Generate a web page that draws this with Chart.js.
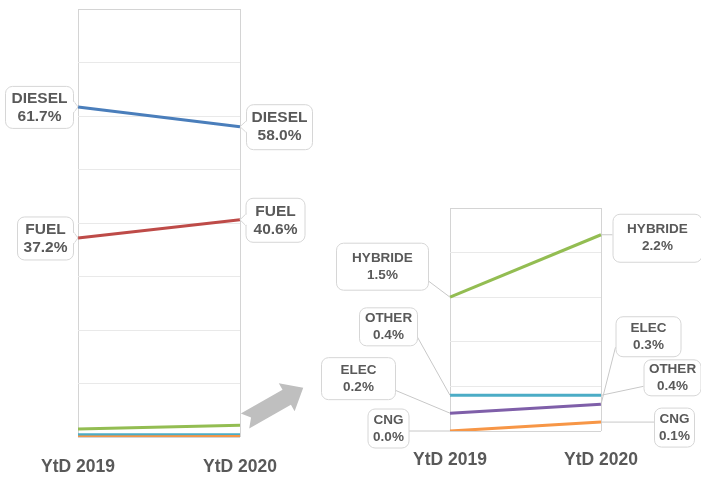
<!DOCTYPE html>
<html>
<head>
<meta charset="utf-8">
<script src="https://cdn.jsdelivr.net/npm/chart.js@4"></script>
<style>
  html, body { margin: 0; padding: 0; background: #fff; }
  #wrap { position: relative; width: 701px; height: 477px; overflow: hidden; }
  canvas { position: absolute; }
  #main { left: 0; top: 0; }
  #zoom { left: 300px; top: 190px; }
</style>
</head>
<body>
<div id="wrap">
  <canvas id="main" width="330" height="477"></canvas>
  <canvas id="zoom" width="401" height="287"></canvas>
</div>
<script>
// market share by fuel type, YtD 2019 vs YtD 2020 (%)
const categories = ['YtD 2019', 'YtD 2020'];
const seriesNames = ['DIESEL', 'FUEL', 'HYBRIDE', 'OTHER', 'ELEC', 'CNG'];
const diesel = [61.7, 58.0];
const fuel = [37.2, 40.6];
const hybride = [1.5, 2.2];
const other = [0.4, 0.4];
const elec = [0.2, 0.3];
const cng = [0.0, 0.1];
const mainTicks = [0, 80, 10];
const zoomTicks = [0, 2.5, 0.5];

const colors = ['#4a7ebb', '#be4b48', '#93bd52', '#4bacc6', '#7f5fa9', '#f79646'];
const allSeries = [diesel, fuel, hybride, other, elec, cng];
const textColor = '#595959';
const fontFamily = '"Liberation Sans", Arial, sans-serif';

Chart.defaults.font.family = fontFamily;
Chart.defaults.color = textColor;

function datasetsFor(indices) {
  return indices.map(i => ({
    label: seriesNames[i],
    data: allSeries[i],
    borderColor: colors[i],
    backgroundColor: colors[i],
    borderWidth: 3,
    pointRadius: 0,
    tension: 0
  }));
}

function roundRect(ctx, x, y, w, h, r) {
  ctx.beginPath();
  ctx.moveTo(x + r, y);
  ctx.lineTo(x + w - r, y);
  ctx.arcTo(x + w, y, x + w, y + r, r);
  ctx.lineTo(x + w, y + h - r);
  ctx.arcTo(x + w, y + h, x + w - r, y + h, r);
  ctx.lineTo(x + r, y + h);
  ctx.arcTo(x, y + h, x, y + h - r, r);
  ctx.lineTo(x, y + r);
  ctx.arcTo(x, y, x + r, y, r);
  ctx.closePath();
}

// value callouts: rounded box with either a small wedge or a leader line
const calloutPlugin = {
  id: 'callouts',
  afterDatasetsDraw(chart, args, opts) {
    const ctx = chart.ctx;
    ctx.save();
    opts.items.forEach(it => {
      const pt = chart.getDatasetMeta(it.ds).data[it.i];
      const px = pt.x, py = pt.y;
      const cx = px + it.dx, cy = py + it.dy;
      const x0 = cx - it.w / 2, y0 = cy - it.h / 2;
      const x1 = x0 + it.w, y1 = y0 + it.h;
      const r = 7;
      let ax, ay, vertical = true;
      if (px < x0) { ax = x0; ay = Math.min(Math.max(py, y0 + r + 2), y1 - r - 2); }
      else if (px > x1) { ax = x1; ay = Math.min(Math.max(py, y0 + r + 2), y1 - r - 2); }
      else { vertical = false; ax = Math.min(Math.max(px, x0 + r + 2), x1 - r - 2); ay = py < y0 ? y0 : y1; }

      if (opts.style === 'leader') {
        ctx.strokeStyle = '#c8c8c8';
        ctx.lineWidth = 1;
        ctx.beginPath();
        ctx.moveTo(ax, ay);
        ctx.lineTo(px, py);
        ctx.stroke();
      }

      roundRect(ctx, x0 + 0.5, y0 + 0.5, it.w, it.h, r);
      ctx.fillStyle = '#ffffff';
      ctx.fill();
      ctx.strokeStyle = '#d6d6d6';
      ctx.lineWidth = 1;
      ctx.stroke();

      if (opts.style === 'wedge') {
        const b = 6;
        const b1 = vertical ? [ax + 0.5, ay - b] : [ax - b, ay + 0.5];
        const b2 = vertical ? [ax + 0.5, ay + b] : [ax + b, ay + 0.5];
        ctx.beginPath();
        ctx.moveTo(b1[0], b1[1]);
        ctx.lineTo(px, py);
        ctx.lineTo(b2[0], b2[1]);
        ctx.closePath();
        ctx.fillStyle = '#ffffff';
        ctx.fill();
        ctx.beginPath();
        ctx.moveTo(b1[0], b1[1]);
        ctx.lineTo(px, py);
        ctx.lineTo(b2[0], b2[1]);
        ctx.strokeStyle = '#d6d6d6';
        ctx.stroke();
        ctx.strokeStyle = '#ffffff';
        ctx.lineWidth = 2;
        ctx.beginPath();
        ctx.moveTo(vertical ? ax + 0.5 : b1[0] + 1, vertical ? b1[1] + 1 : ay + 0.5);
        ctx.lineTo(vertical ? ax + 0.5 : b2[0] - 1, vertical ? b2[1] - 1 : ay + 0.5);
        ctx.stroke();
      }

      const ds = chart.data.datasets[it.ds];
      const lines = [ds.label, ds.data[it.i].toFixed(1) + '%'];
      ctx.fillStyle = textColor;
      ctx.font = 'bold ' + opts.size + 'px ' + fontFamily;
      ctx.textAlign = 'center';
      ctx.textBaseline = 'middle';
      ctx.fillText(lines[0], cx + 0.5, cy - opts.lh / 2 + 0.5);
      ctx.fillText(lines[1], cx + 0.5, cy + opts.lh / 2 + 0.5);
    });
    ctx.restore();
  }
};

// grey block arrow pointing from the main chart to the zoomed one
const arrowPlugin = {
  id: 'zoomArrow',
  afterDraw(chart) {
    const ctx = chart.ctx;
    ctx.save();
    ctx.translate(245, 421);
    ctx.rotate(Math.atan2(-33, 58));
    const len = 67, shaft = 17, head = 32, headLen = 19, notch = 7;
    ctx.beginPath();
    ctx.moveTo(0, -shaft / 2);
    ctx.lineTo(len - headLen, -shaft / 2);
    ctx.lineTo(len - headLen, -head / 2);
    ctx.lineTo(len, 0);
    ctx.lineTo(len - headLen, head / 2);
    ctx.lineTo(len - headLen, shaft / 2);
    ctx.lineTo(0, shaft / 2);
    ctx.lineTo(notch, 0);
    ctx.closePath();
    ctx.fillStyle = '#bfbfbf';
    ctx.fill();
    ctx.restore();
  }
};

function gridColor(max) {
  return c => (c.tick && (c.tick.value === 0 || c.tick.value === max)) ? '#d4d4d4' : '#e9e9e9';
}

function buildOptions(ticks, yWidth, xHeight, padTop, padRight, tickPad, callouts) {
  return {
    responsive: false,
    animation: false,
    layout: { padding: { top: padTop, right: padRight, left: 0, bottom: 0 } },
    plugins: {
      legend: { display: false },
      tooltip: { enabled: false },
      callouts: callouts
    },
    scales: {
      x: {
        offset: false,
        grid: { color: '#d4d4d4', drawTicks: false },
        border: { display: false },
        ticks: { padding: tickPad, color: textColor, font: { size: 17.5, weight: 'bold' }, maxRotation: 0 },
        afterFit: s => { s.height = xHeight; }
      },
      y: {
        min: ticks[0],
        max: ticks[1],
        grid: { color: gridColor(ticks[1]), drawTicks: false },
        border: { display: false },
        ticks: { display: false, stepSize: ticks[2] },
        afterFit: s => { s.width = yWidth; }
      }
    }
  };
}

new Chart(document.getElementById('main'), {
  type: 'line',
  data: { labels: categories, datasets: datasetsFor([5, 3, 4, 2, 1, 0]) },
  options: buildOptions(mainTicks, 78, 40, 9, 90, 20, {
    style: 'wedge', size: 15.5, lh: 18,
    items: [
      { ds: 5, i: 0, dx: -39, dy: 0, w: 68, h: 42 },
      { ds: 5, i: 1, dx: 39, dy: 0, w: 66, h: 45 },
      { ds: 4, i: 0, dx: -33, dy: 0, w: 56, h: 43 },
      { ds: 4, i: 1, dx: 35, dy: 0, w: 59, h: 44 }
    ]
  }),
  plugins: [calloutPlugin, arrowPlugin]
});

new Chart(document.getElementById('zoom'), {
  type: 'line',
  data: { labels: categories, datasets: datasetsFor([5, 1, 3, 4, 2]) },
  options: buildOptions(zoomTicks, 150, 46, 18, 100, 19, {
    style: 'leader', size: 13.5, lh: 17,
    items: [
      { ds: 4, i: 0, dx: -68, dy: -31, w: 92, h: 47 },
      { ds: 4, i: 1, dx: 56, dy: 3, w: 89, h: 48 },
      { ds: 2, i: 0, dx: -62, dy: -69, w: 58, h: 38 },
      { ds: 3, i: 0, dx: -92, dy: -35, w: 74, h: 42 },
      { ds: 0, i: 0, dx: -62, dy: -3, w: 41, h: 39 },
      { ds: 3, i: 1, dx: 47, dy: -68, w: 65, h: 40 },
      { ds: 2, i: 1, dx: 71, dy: -18, w: 57, h: 36 },
      { ds: 0, i: 1, dx: 73, dy: 5, w: 40, h: 39 }
    ]
  }),
  plugins: [calloutPlugin]
});
</script>
</body>
</html>
